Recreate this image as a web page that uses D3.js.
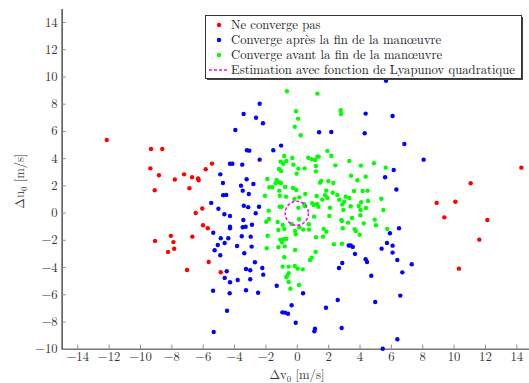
<!DOCTYPE html>
<html><head><meta charset="utf-8">
<script src="https://cdn.jsdelivr.net/npm/d3@7"></script>
<style>body{margin:0;background:#fff}svg{display:block}</style>
</head><body>
<svg id="chart" width="529" height="383"></svg>
<script>
const xTicks = [-14,-12,-10,-8,-6,-4,-2,0,2,4,6,8,10,12,14];
const yTicks = [-10,-8,-6,-4,-2,0,2,4,6,8,10,12,14];
const seriesNames = ["Ne converge pas","Converge après la fin de la manœuvre","Converge avant la fin de la manœuvre","Estimation avec fonction de Lyapunov quadratique"];
const seriesColors = ["#ff0000","#0000ff","#00ff00","#ff00ff"];

// [Δv0, Δu0]
const notConverge = [
[-12.12,5.33],[-9.3,4.67],[-8.58,4.67],[-9.34,3.25],[-8.79,2.74],[-9.06,1.64],[-7.78,2.43],[-7.19,2.81],
[-6.68,2.6],[-6.3,2.5],[-6.26,2.38],[-6.85,1.79],[-5.81,3.18],[-5.41,3.6],[-6.03,0.3],[-6.45,-0.03],
[-5.98,-0.93],[-5.68,-1.15],[-6.66,-1.77],[-9.04,-2.08],[-8.03,-1.71],[-7.87,-2.17],[-7.82,-2.66],
[-8.21,-2.89],[-5.62,-3.63],[-7.0,-4.22],[-4.85,-4.38],
[8.92,0.71],[10.11,0.8],[9.41,-0.35],[12.15,-0.54],[11.64,-1.99],[10.34,-4.12],[14.32,3.3],[11.09,2.15]
];
const convergeAfter = [
[-2.37,8.0],[-3.39,7.24],[-2.6,6.97],[-2.16,6.56],[-3.92,6.07],[-3.18,4.58],[-3.03,4.55],[-4.26,3.59],
[-4.11,3.59],[-3.48,3.52],[-2.37,3.89],[-4.88,2.81],[-4.71,2.17],[-3.2,2.45],[-3.56,1.98],[-2.77,2.1],
[-3.45,1.61],[-3.06,1.36],[-4.7,1.28],[-4.5,1.3],[-5.46,0.71],[-5.0,0.28],[-3.38,0.5],[-3.1,0.4],
[-4.62,-0.12],[-4.26,-0.25],[-2.62,-0.05],[-2.41,0.43],[-5.33,-1.48],[-4.26,-1.04],[-4.26,-1.15],
[-3.41,-0.54],[-3.26,-1.04],[-3.45,-1.08],[-2.86,-0.89],[-4.85,-1.89],[-4.37,-1.89],[-3.51,-1.74],
[-2.94,-1.77],[-4.6,-2.23],[-5.04,-2.38],[-5.24,-2.77],[-4.88,-3.14],[-3.81,-2.45],[-2.88,-2.5],
[-3.35,-2.99],[-2.67,-3.65],[-4.47,-4.31],[-3.24,-4.14],[-2.97,-4.24],[-2.2,-4.07],[-2.14,-4.56],
[-4.6,-4.8],[-4.26,-5.12],[-3.77,-4.95],[-2.97,-4.9],[-5.34,-5.74],[-3.24,-5.71],[-4.28,-5.93],
[-2.47,-5.89],[-4.45,-7.21],[-5.3,-8.77],
[1.42,5.9],[2.2,5.92],[-1.0,4.92],[-1.5,4.58],[5.69,9.69],[4.39,7.27],[6.11,7.1],[4.33,5.83],
[6.86,5.04],[8.09,3.89],[6.18,3.13],[5.63,2.59],[6.35,1.7],
[6.52,-1.15],[5.94,-1.52],[5.75,-2.23],[6.11,-2.43],[5.41,-2.65],[6.11,-2.94],[6.41,-3.48],[7.33,-3.8],
[6.73,-4.39],[3.31,-2.42],[3.44,-2.42],[3.57,-2.52],[3.71,-3.04],[4.39,-3.43],[4.48,-3.63],[2.9,-3.7],
[2.69,-4.07],[4.75,-4.64],[6.6,-6.1],[5.0,-6.57],[2.61,-6.42],[1.86,-6.99],[0.4,-5.93],[-1.28,-5.37],
[-0.33,-6.81],[-0.92,-7.33],[-0.75,-7.35],[-0.56,-7.43],[-0.07,-8.09],[1.16,-8.53],[1.12,-8.72],
[2.86,-8.48],[6.41,-9.31],[5.48,-10.0]
];
const convergeBefore = [
[-0.63,8.91],[1.31,8.74],[-0.05,7.44],[0.08,6.9],[-0.13,6.31],[0.25,5.68],[2.8,7.52],[2.82,7.24],
[-0.8,4.16],[-1.03,3.74],[-0.67,3.79],[-0.86,3.59],[-1.14,3.2],[-1.01,3.06],[-0.29,4.01],[-0.22,3.52],
[0.1,3.23],[0.5,3.25],[0.73,4.03],[0.95,3.92],[1.16,3.86],[1.31,4.11],[1.4,4.11],[1.22,3.42],[1.22,3.03],
[1.95,4.53],[2.2,4.16],[2.46,3.47],[-1.88,2.47],[-1.28,2.4],[-1.35,2.15],[-1.15,2.23],[-1.01,2.17],
[-1.75,1.86],[-1.56,1.86],[-0.75,1.88],[-1.12,1.61],[-2.03,1.24],[-1.09,1.24],[-0.69,1.17],[-0.24,1.81],
[-0.03,1.66],[-0.16,1.0],[0.16,1.12],[0.54,1.37],[0.48,0.61],[0.99,0.68],[1.27,1.22],[1.48,2.2],
[1.56,2.32],[1.88,1.61],[1.8,1.27],[2.01,2.3],[2.33,2.17],[2.29,1.46],[2.58,1.29],[2.71,0.95],[1.63,0.95],
[1.95,1.07],[-1.09,0.43],[-0.96,0.43],[1.08,0.56],[1.29,0.63],[1.37,0.43],[2.12,0.36],[-0.01,2.86],
[-1.79,0.14],[0.1,0.36],[0.52,0.46],[-1.77,-0.47],[-1.95,-0.67],[-1.22,-0.69],[-0.9,-0.91],[-1.18,-1.28],
[-0.8,-1.2],[-0.33,-0.84],[0.14,-0.49],[-0.11,-1.35],[-0.07,-1.59],[0.16,-1.08],[0.41,-1.25],[0.76,-0.86],
[0.78,-1.25],[1.1,-0.3],[1.72,-1.2],[1.88,-1.4],[2.07,-0.25],[2.84,-0.54],[2.93,-1.15],[1.67,-1.77],
[1.22,-1.81],[-1.86,-1.7],[-1.05,-1.99],[-0.84,-1.96],[-0.67,-1.92],[-0.94,-2.18],[-1.18,-2.55],
[-0.77,-2.48],[-1.92,-2.62],[-0.11,-2.75],[2.37,-2.33],[2.88,-2.29],[1.2,-2.89],[0.95,-3.31],[0.84,-3.48],
[-0.8,-3.28],[-0.9,-3.97],[-0.52,-3.97],[-0.13,-3.92],[0.06,-4.12],[0.38,-4.17],[-0.52,-4.46],
[-0.61,-4.66],[-0.67,-4.73],[-0.52,-5.1],[0.14,-5.32],[-0.41,-5.59],
[3.12,1.17],[3.65,1.59],[4.2,1.59],[4.52,1.61],[5.39,1.02],[2.9,0.6],[3.02,0.8],[3.44,0.46],[3.95,0.48],
[4.1,0.76],[4.54,0.85],[4.41,0.34],[5.52,0.19],[2.97,0.19],[4.07,0.19],[3.52,-0.4],[4.05,-0.2],[2.88,-0.62],
[3.27,-0.74],[4.27,-0.79],[4.97,-0.52],[5.05,-0.93],[5.77,-1.2],[3.69,-1.23],[3.76,-1.35],[4.01,-1.62],
[3.35,3.79],[4.09,3.45],[4.92,3.62],[5.67,3.3],[3.46,2.71],[3.86,2.37],[4.39,2.64],[3.35,1.07]
];
// Lyapunov estimate: ellipse centre and half-axes
const lyapCenter = [0, -0.05];
const lyapRadii = [0.74, 0.89];

const svg = d3.select("#chart");
const FAM = '"Latin Modern Roman", "CMU Serif", "Liberation Serif", serif';
const FS = 12.7;
const x = d3.scaleLinear().domain([-15, 15]).range([61.6, 532]);
const y = d3.scaleLinear().domain([-10, 15]).range([348.7, 8.4]);
const fmt = d => String(d).replace("-", "\u2212");

const axesLayer = svg.append("g");
const pointsLayer = svg.append("g");
const legendLayer = svg.append("g");
const labelLayer = svg.append("g");

// axes
const xAxis = d3.axisBottom(x).tickValues(xTicks).tickSizeInner(-4).tickSizeOuter(0)
  .tickPadding(7).tickFormat(fmt);
const yAxis = d3.axisLeft(y).tickValues(yTicks).tickSizeInner(-4).tickSizeOuter(0)
  .tickPadding(7).tickFormat(fmt);
const gx = axesLayer.append("g").attr("transform", `translate(0,${y(-10)})`).call(xAxis);
const gy = axesLayer.append("g").attr("transform", `translate(${x(-15)},0)`).call(yAxis);
gx.select(".domain").attr("stroke", "#777").attr("stroke-width", 1.6);
gy.select(".domain").attr("stroke", "#111").attr("stroke-width", 1.1);
[gx, gy].forEach(g => {
  g.selectAll(".tick line").attr("stroke", "#888").attr("stroke-width", 1);
  g.selectAll(".tick text").style("font-family", FAM).style("font-size", FS + "px").attr("fill", "#333");
});
gx.selectAll(".tick text").attr("dy", "0.45em");
gy.selectAll(".tick text").attr("x", -4);

// points
[notConverge, convergeAfter, convergeBefore].forEach((pts, i) => {
  pointsLayer.append("g").selectAll("circle").data(pts).join("circle")
    .attr("cx", d => x(d[0])).attr("cy", d => y(d[1])).attr("r", 2.2)
    .attr("fill", seriesColors[i]);
});

// Lyapunov ellipse
pointsLayer.append("ellipse")
  .attr("cx", x(lyapCenter[0])).attr("cy", y(lyapCenter[1]))
  .attr("rx", x(lyapRadii[0]) - x(0)).attr("ry", y(0) - y(lyapRadii[1]))
  .attr("fill", "none").attr("stroke", seriesColors[3]).attr("stroke-width", 1.5)
  .attr("stroke-dasharray", "3,2");

// legend
legendLayer.append("rect").attr("x", 207).attr("y", 17).attr("width", 316).attr("height", 63).attr("fill", "#444");
legendLayer.append("rect").attr("x", 205.5).attr("y", 15.5).attr("width", 316).attr("height", 63)
  .attr("fill", "#fff").attr("stroke", "#333").attr("stroke-width", 1);
const rowY = [25, 40, 55, 70];
seriesNames.forEach((name, i) => {
  if (i < 3) {
    legendLayer.append("circle").attr("cx", 219).attr("cy", rowY[i]).attr("r", 2.2).attr("fill", seriesColors[i]);
  } else {
    legendLayer.append("line").attr("x1", 209).attr("x2", 227).attr("y1", rowY[i]).attr("y2", rowY[i])
      .attr("stroke", seriesColors[i]).attr("stroke-width", 1.6).attr("stroke-dasharray", "3,2");
  }
  legendLayer.append("text").attr("x", 231).attr("y", rowY[i]).attr("dy", "0.33em")
    .style("font-family", FAM).style("font-size", FS + "px").attr("fill", "#222").text(name);
});

// axis labels
const xl = labelLayer.append("text").attr("x", 297).attr("y", 378.5).attr("text-anchor", "middle")
  .style("font-family", FAM).style("font-size", FS + "px").attr("fill", "#333");
xl.append("tspan").text("Δv");
xl.append("tspan").style("font-size", (FS * 0.7) + "px").attr("dy", 3).text("0");
xl.append("tspan").attr("dy", -3).text(" [m/s]");

const yl = labelLayer.append("text").attr("transform", "translate(24,181) rotate(-90)").attr("text-anchor", "middle")
  .style("font-family", FAM).style("font-size", FS + "px").attr("fill", "#333");
yl.append("tspan").text("Δu");
yl.append("tspan").style("font-size", (FS * 0.7) + "px").attr("dy", 3).text("0");
yl.append("tspan").attr("dy", -3).text(" [m/s]");
</script>
</body></html>
